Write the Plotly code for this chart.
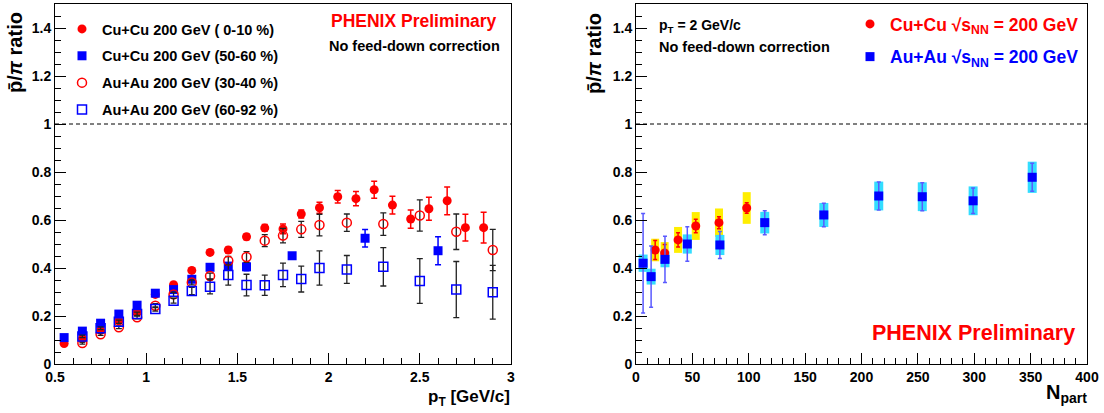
import plotly.graph_objects as go

W, H = 1104, 413
F = "Liberation Sans"

# ---------------- left panel data: pbar/pi vs pT ----------------
pt_cucu_c = [0.55, 0.65, 0.75, 0.85, 0.95, 1.05, 1.15, 1.25, 1.35, 1.45, 1.55, 1.65,
             1.75, 1.85, 1.95, 2.05, 2.15, 2.25, 2.35, 2.45, 2.55, 2.65, 2.75, 2.85]
cucu_c = [0.085, 0.105, 0.14, 0.18, 0.22, 0.29, 0.33, 0.39, 0.465, 0.475, 0.53, 0.567,
          0.563, 0.625, 0.651, 0.697, 0.689, 0.726, 0.662, 0.604, 0.647, 0.68, 0.568, 0.568]
cucu_c_err = [0.004, 0.004, 0.005, 0.005, 0.006, 0.007, 0.008, 0.009, 0.01, 0.011, 0.012, 0.014,
              0.02, 0.017, 0.023, 0.026, 0.03, 0.035, 0.037, 0.038, 0.048, 0.058, 0.056, 0.064]

pt_cucu_p = [0.55, 0.65, 0.75, 0.85, 0.95, 1.05, 1.15, 1.25, 1.35, 1.45, 1.55, 1.8, 2.2, 2.6]
cucu_p = [0.11, 0.137, 0.17, 0.208, 0.245, 0.295, 0.31, 0.353, 0.403, 0.408, 0.405, 0.451, 0.524, 0.472]
cucu_p_err = [0.005, 0.005, 0.006, 0.006, 0.007, 0.008, 0.009, 0.01, 0.012, 0.014, 0.016, 0.012, 0.036, 0.058]

pt_auau = [0.65, 0.75, 0.85, 0.95, 1.05, 1.15, 1.25, 1.35, 1.45, 1.55, 1.65, 1.75, 1.85, 1.95,
           2.1, 2.3, 2.5, 2.7, 2.9]
auau_mc = [0.087, 0.124, 0.153, 0.195, 0.243, 0.29, 0.34, 0.367, 0.43, 0.446, 0.514, 0.535, 0.561, 0.579,
           0.589, 0.583, 0.619, 0.551, 0.475]
auau_mc_err = [0.004, 0.005, 0.006, 0.007, 0.008, 0.009, 0.01, 0.012, 0.018, 0.022, 0.025, 0.03, 0.033, 0.045,
               0.036, 0.047, 0.065, 0.074, 0.086]
auau_p = [0.115, 0.149, 0.176, 0.208, 0.229, 0.264, 0.304, 0.322, 0.371, 0.329, 0.328, 0.371, 0.354, 0.4,
          0.394, 0.405, 0.346, 0.31, 0.299]
auau_p_err = [0.005, 0.006, 0.007, 0.008, 0.009, 0.01, 0.015, 0.03, 0.042, 0.045, 0.042, 0.049, 0.054, 0.071,
              0.058, 0.08, 0.093, 0.117, 0.112]

# ---------------- right panel data: pbar/pi at pT=2 vs Npart ----------------
npart_cucu = [17.0, 25.4, 37.3, 53.0, 73.6, 98.2]
ratio_cucu = [0.475, 0.463, 0.517, 0.575, 0.589, 0.65]
stat_cucu = [0.04, 0.035, 0.03, 0.028, 0.025, 0.022]
sys_cucu = [0.047, 0.045, 0.054, 0.058, 0.059, 0.066]

npart_auau = [6.3, 13.4, 25.7, 45.5, 74.4, 114.2, 166.6, 215.3, 253.9, 299.0, 351.4]
ratio_auau = [0.42, 0.364, 0.436, 0.5, 0.496, 0.589, 0.621, 0.70, 0.697, 0.68, 0.778]
stat_auau = [0.207, 0.128, 0.096, 0.072, 0.056, 0.05, 0.049, 0.058, 0.058, 0.053, 0.058]
sys_auau = [0.036, 0.033, 0.033, 0.04, 0.042, 0.045, 0.05, 0.06, 0.06, 0.06, 0.065]

RED = "#ff0000"
BLUE = "#0000ff"


def px(x):
    return x / W


def py(y):
    return 1 - y / H


fig = go.Figure()

# left panel
fig.add_trace(go.Scatter(
    x=pt_cucu_c, y=cucu_c, mode="markers", name="Cu+Cu 200 GeV ( 0-10 %)",
    marker=dict(symbol="circle", size=9, color=RED),
    error_y=dict(type="data", array=cucu_c_err, color=RED, thickness=1.5, width=3),
    legend="legend", legendgroup="a", xaxis="x", yaxis="y"))
fig.add_trace(go.Scatter(
    x=pt_cucu_p, y=cucu_p, mode="markers", name="Cu+Cu 200 GeV (50-60 %)",
    marker=dict(symbol="square", size=9, color=BLUE),
    error_y=dict(type="data", array=cucu_p_err, color=BLUE, thickness=1.5, width=3),
    legend="legend", legendgroup="b", xaxis="x", yaxis="y"))
fig.add_trace(go.Scatter(
    x=pt_auau, y=auau_mc, mode="markers", name="Au+Au 200 GeV (30-40 %)",
    marker=dict(symbol="circle-open", size=9, color=RED, line=dict(width=1.5, color=RED)),
    error_y=dict(type="data", array=auau_mc_err, color="#222222", thickness=1.3, width=3),
    legend="legend", legendgroup="c", xaxis="x", yaxis="y"))
fig.add_trace(go.Scatter(
    x=pt_auau, y=auau_p, mode="markers", name="Au+Au 200 GeV (60-92 %)",
    marker=dict(symbol="square-open", size=9, color=BLUE, line=dict(width=1.5, color=BLUE)),
    error_y=dict(type="data", array=auau_p_err, color="#222222", thickness=1.3, width=3),
    legend="legend", legendgroup="d", xaxis="x", yaxis="y"))

# right panel: systematic boxes
fig.add_trace(go.Scatter(
    x=npart_cucu, y=ratio_cucu, mode="markers", showlegend=False, hoverinfo="skip",
    marker=dict(size=1, color="rgba(0,0,0,0)"),
    error_y=dict(type="data", array=sys_cucu, color="#ffee00", thickness=8, width=0),
    xaxis="x2", yaxis="y2"))
fig.add_trace(go.Scatter(
    x=npart_auau, y=ratio_auau, mode="markers", showlegend=False, hoverinfo="skip",
    marker=dict(size=1, color="rgba(0,0,0,0)"),
    error_y=dict(type="data", array=sys_auau, color="#33ddff", thickness=9, width=0),
    xaxis="x2", yaxis="y2"))
# right panel: points with stat errors
fig.add_trace(go.Scatter(
    x=npart_cucu, y=ratio_cucu, mode="markers",
    name='<span style="color:#ff0000">Cu+Cu √s<sub>NN</sub> = 200 GeV</span>',
    marker=dict(symbol="circle", size=9, color=RED),
    error_y=dict(type="data", array=stat_cucu, color=RED, thickness=1.5, width=2),
    legend="legend2", legendgroup="e", xaxis="x2", yaxis="y2"))
fig.add_trace(go.Scatter(
    x=npart_auau, y=ratio_auau, mode="markers",
    name='<span style="color:#0000ff">Au+Au √s<sub>NN</sub> = 200 GeV</span>',
    marker=dict(symbol="square", size=9, color=BLUE),
    error_y=dict(type="data", array=stat_auau, color="#5a5aff", thickness=1.5, width=2),
    legend="legend2", legendgroup="f", xaxis="x2", yaxis="y2"))

tickfont = dict(family=F, size=14, color="black", weight="bold")


def axis_style(**kw):
    d = dict(showline=True, linecolor="black", linewidth=1, mirror=True,
             ticks="inside", ticklen=11, tickcolor="black", tickwidth=1,
             showgrid=False, zeroline=False, tickfont=tickfont, fixedrange=True,
             automargin=False)
    d.update(kw)
    return d


ydom = [py(364), py(4)]
fig.update_layout(
    width=W, height=H,
    margin=dict(l=0, r=0, t=0, b=0, autoexpand=False),
    paper_bgcolor="white", plot_bgcolor="white",
    font=dict(family=F, color="black"),
    xaxis=axis_style(domain=[px(55), px(511)], range=[0.5, 3], tick0=0.5, dtick=0.5, anchor="y",
                     minor=dict(ticks="inside", ticklen=6, tickcolor="black", dtick=0.1, tick0=0.5)),
    yaxis=axis_style(domain=ydom, range=[0, 1.5], tick0=0, dtick=0.2, anchor="x",
                     minor=dict(ticks="inside", ticklen=6, tickcolor="black", dtick=0.05, tick0=0)),
    xaxis2=axis_style(domain=[px(636), px(1087)], range=[0, 400], tick0=0, dtick=50, anchor="y2",
                      minor=dict(ticks="inside", ticklen=6, tickcolor="black", dtick=10, tick0=0)),
    yaxis2=axis_style(domain=ydom, range=[0, 1.5], tick0=0, dtick=0.2, anchor="x2",
                      minor=dict(ticks="inside", ticklen=6, tickcolor="black", dtick=0.05, tick0=0)),
    legend=dict(x=px(62), y=py(13), xanchor="left", yanchor="top",
                font=dict(family=F, size=14.5, color="black", weight="bold"),
                bgcolor="rgba(0,0,0,0)", tracegroupgap=5, itemclick=False),
    legend2=dict(x=px(850), y=py(6), xanchor="left", yanchor="top",
                 font=dict(family=F, size=17.5, color="black", weight="bold"),
                 bgcolor="rgba(0,0,0,0)", tracegroupgap=7, itemclick=False),
    showlegend=True,
)

# dashed reference line at ratio = 1
for xr, yr in (("x domain", "y"), ("x2 domain", "y2")):
    fig.add_shape(type="line", xref=xr, yref=yr, x0=0, x1=1, y0=1, y1=1,
                  line=dict(color="black", width=1, dash="4px,3px"))

ann = []


def text(x, y, s, size, color="black", xanchor="left", angle=0):
    ann.append(dict(x=px(x), y=py(y), xref="paper", yref="paper", text=s, showarrow=False,
                    xanchor=xanchor, yanchor="middle", textangle=angle,
                    font=dict(family=F, size=size, color=color, weight="bold")))


ytitle = "p̄/<i>π</i> ratio"
text(15, 53, ytitle, 20, xanchor="center", angle=-90)
text(594, 53, ytitle, 20, xanchor="center", angle=-90)
text(512, 398, "p<sub>T</sub> [GeV/c]", 17, xanchor="right")
text(1089, 393, "N<sub>part</sub>", 20, xanchor="right")
text(499, 21, "PHENIX Preliminary", 17.5, color=RED, xanchor="right")
text(502, 46, "No feed-down correction", 14.5, xanchor="right")
text(657, 26, "p<sub>T</sub> = 2 GeV/c", 14)
text(657, 47, "No feed-down correction", 14.5)
text(1077, 333, "PHENIX Preliminary", 21.5, color=RED, xanchor="right")
fig.update_layout(annotations=ann)

fig.write_html("out.html", config={"displayModeBar": False},
               post_script="document.body.style.margin='0';document.body.style.overflow='hidden';")
